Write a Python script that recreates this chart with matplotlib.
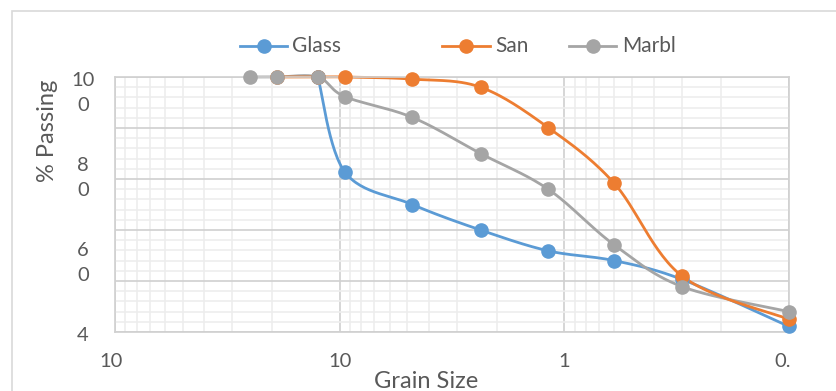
import numpy as np
import matplotlib
matplotlib.use('Agg')
import matplotlib.pyplot as plt
import matplotlib.transforms as mtransforms
from matplotlib.lines import Line2D
from matplotlib.patches import Rectangle
from matplotlib.ticker import FixedLocator, NullFormatter

plt.rcParams['font.family'] = ['Lato', 'DejaVu Sans']

# ~~~~~~~~~~~~~~ gradation data: sieve size (mm) vs % passing ~~~~~~~~~~~~~~
glass_size = [12.5, 9.5, 4.75, 2.36, 1.18, 0.6, 0.3, 0.1]
glass_pass = [100, 77.7, 70.0, 64.0, 59.1, 56.8, 52.4, 41.3]

sand_size = [19, 12.5, 9.5, 4.75, 2.36, 1.18, 0.6, 0.3, 0.1]
sand_pass = [100, 100, 100, 99.5, 97.6, 88.1, 75.0, 53.2, 43.0]

marble_size = [25, 19, 12.5, 9.5, 4.75, 2.36, 1.18, 0.6, 0.3, 0.1]
marble_pass = [100, 100, 100, 95.4, 90.5, 82.0, 73.6, 60.5, 50.7, 44.8]

names = ['Glass', 'San', 'Marbl']
colors = ['#5B9BD5', '#ED7D31', '#A5A5A5']

xticks = [100, 10, 1, 0.1]
xtick_labels = ['10', '10', '1', '0.']
yticks = [100, 80, 60, 40]
ytick_labels = ['10\n0', '8\n0', '6\n0', '4']

W, H = 836, 391
txt_col = '#595959'
major_col = '#D0D0D0'
minor_col = '#EDEDED'


def fx(px):
    return px / W


def fy(py):
    return 1 - py / H


def smooth_line(ax, xs, ys, steps=30):
    # bezier smoothing done in screen space, like a spreadsheet "smoothed line"
    p = ax.transData.transform(np.column_stack([xs, ys]))
    p = np.vstack([p[0], p, p[-1]])
    segs = []
    t = np.linspace(0, 1, steps)[:, None]
    for i in range(1, len(p) - 2):
        p0, p1, p2, p3 = p[i - 1], p[i], p[i + 1], p[i + 2]
        c1 = p1 + (p2 - p0) / 6
        c2 = p2 - (p3 - p1) / 6
        segs.append((1 - t) ** 3 * p1 + 3 * (1 - t) ** 2 * t * c1
                    + 3 * (1 - t) * t ** 2 * c2 + t ** 3 * p2)
    curve = ax.transData.inverted().transform(np.vstack(segs))
    return curve[:, 0], curve[:, 1]


def shifted(tr, dx, dy):
    return tr + mtransforms.ScaledTranslation(dx / 100, dy / 100, fig.dpi_scale_trans)


fig = plt.figure(figsize=(W / 100, H / 100), dpi=100)
ax = fig.add_axes([fx(115), fy(332), fx(789) - fx(115), fy(77) - fy(332)])

ax.set_xscale('log')
ax.set_xlim(100, 0.1)
ax.set_ylim(40, 100)

# grid
ax.xaxis.set_major_locator(FixedLocator(xticks))
minors = [m * d for d in [0.1, 1, 10] for m in range(2, 10)]
ax.xaxis.set_minor_locator(FixedLocator(minors))
ax.xaxis.set_minor_formatter(NullFormatter())
ax.yaxis.set_major_locator(FixedLocator(np.arange(40, 100.1, 12)))
ax.yaxis.set_minor_locator(FixedLocator(np.arange(40, 100.1, 2.4)))
ax.grid(which='minor', color=minor_col, lw=1.2, zorder=0)
ax.grid(which='major', color=major_col, lw=1.2, zorder=0)
ax.set_axisbelow(True)
ax.tick_params(which='both', length=0, labelleft=False, labelbottom=False)
for s in ax.spines.values():
    s.set_color(major_col)
    s.set_linewidth(1.2)

# series
series = [(glass_size, glass_pass), (sand_size, sand_pass), (marble_size, marble_pass)]
line_z = [2, 2.2, 2.1]
for (xs, ys), c, z in zip(series, colors, line_z):
    sx, sy = smooth_line(ax, xs, ys)
    ax.plot(sx, sy, color=c, lw=2.0, zorder=z, solid_capstyle='round', clip_on=False)
for i, ((xs, ys), c) in enumerate(zip(series, colors)):
    ax.plot(xs, ys, ls='none', marker='o', ms=9.5, color=c, zorder=3 + i, clip_on=False)

# tick labels
xtr = ax.get_xaxis_transform()
x_shift = [-4, 0, 0, -6]
for v, lab, dx in zip(xticks, xtick_labels, x_shift):
    ax.text(v, 0, lab, transform=shifted(xtr, dx, -21), ha='center', va='top',
            fontsize=14.5, color=txt_col)

ytr = ax.get_yaxis_transform()
for v, lab in zip(yticks, ytick_labels):
    ax.text(-0.0475, v, lab, transform=shifted(ytr, 0, 5), ha='center', va='top',
            fontsize=14.5, color=txt_col, linespacing=1.6)

# axis titles
fig.text(fx(426), fy(388), 'Grain Size', ha='center', va='baseline', fontsize=17, color=txt_col)
fig.text(fx(47), fy(131), '% Passing', ha='center', va='center', rotation=90,
         fontsize=17, color=txt_col)

# legend
leg = [(240, 287, 292), (442, 490, 495), (569, 616, 622)]
for (x0, x1, xt), name, c in zip(leg, names, colors):
    fig.add_artist(Line2D([fx(x0), fx(x1)], [fy(46), fy(46)], color=c, lw=2.0,
                          transform=fig.transFigure))
    fig.add_artist(Line2D([fx((x0 + x1) / 2)], [fy(46)], marker='o', ms=9.5, color=c,
                          transform=fig.transFigure))
    fig.text(fx(xt), fy(46), name, ha='left', va='center', fontsize=15, color=txt_col)

# chart frame
fig.add_artist(Rectangle((fx(12), -0.1), 1.2, fy(11) + 0.1, transform=fig.transFigure,
                         fill=False, edgecolor='#D9D9D9', lw=1.2))

fig.savefig('out.png', dpi=100)
